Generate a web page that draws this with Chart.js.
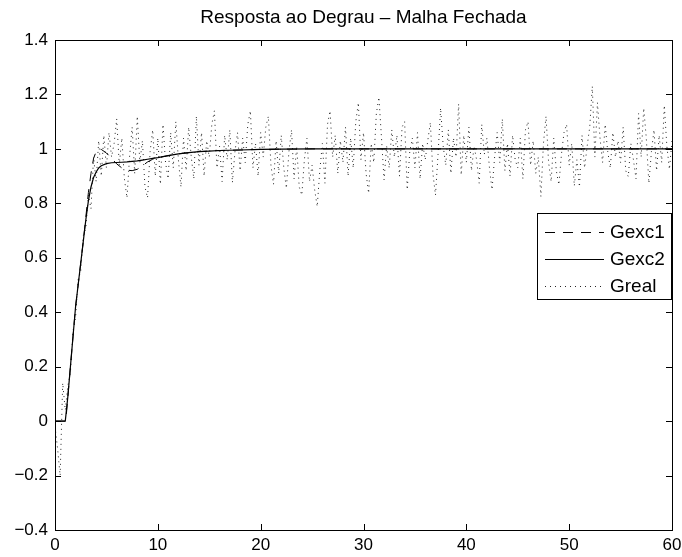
<!DOCTYPE html>
<html lang="pt">
<head>
<meta charset="UTF-8">
<title>Resposta ao Degrau - Malha Fechada</title>
<script src="https://cdn.jsdelivr.net/npm/chart.js"></script>
<style>
    body { margin: 0; background: #fff; }
    canvas { display: block; }
</style>
</head>
<body>
<canvas id="grafico" width="682" height="557"></canvas>
<script>
// tempos das curvas dos modelos
const tModelo = [0, 1, 1.05, 1.25, 1.5, 1.75, 2, 2.25, 2.5, 2.75, 3, 3.25, 3.5, 3.75, 4, 4.25, 4.5,
    5, 5.5, 6, 6.5, 7, 7.5, 8, 8.5, 9, 9.5, 10, 11, 12, 13, 14, 15, 16, 18, 20, 22, 25, 30, 60];

const gexc1 = [0, 0, 0, 0.09, 0.2, 0.31, 0.42, 0.5, 0.58, 0.66, 0.75, 0.84, 0.91, 0.965, 0.99, 1.0, 0.998,
    0.985, 0.965, 0.945, 0.93, 0.922, 0.92, 0.925, 0.938, 0.952, 0.962, 0.968, 0.975, 0.982, 0.986, 0.99,
    0.992, 0.994, 0.996, 0.998, 0.999, 1.0, 1.0, 1.0];

const gexc2 = [0, 0, 0, 0.09, 0.2, 0.31, 0.42, 0.5, 0.58, 0.66, 0.74, 0.81, 0.86, 0.895, 0.915, 0.93, 0.938,
    0.946, 0.949, 0.95, 0.951, 0.952, 0.954, 0.956, 0.959, 0.962, 0.965, 0.968, 0.975, 0.982, 0.986, 0.99,
    0.992, 0.994, 0.996, 0.998, 0.999, 1.0, 1.0, 1.0];

// Greal: amostras a cada 0.25 s, de 0 a 60 s
const dtReal = 0.25;
const greal = [
    -0.02, -0.1, -0.2, 0.14, 0.04, 0.13, 0.18, 0.33, 0.38, 0.52, 0.55, 0.68, 0.71, 0.83, 0.78, 0.97, 0.88, 1.03,
    0.90, 1.05,
    0.93, 1.06, 0.97, 1.02,
    1.11, 0.94, 1.04, 0.89,
    0.82, 0.97, 1.08, 0.91,
    1.12, 0.95, 1.03, 0.86,
    0.82, 0.99, 1.07, 0.90,
    1.04, 0.87, 1.09, 0.95,
    0.89, 1.06, 0.93, 1.10,
    0.96, 0.86, 1.04, 0.92,
    1.08, 0.97, 0.89, 1.12,
    0.94, 1.06, 0.90, 1.03,
    0.97, 1.09, 1.14, 0.93,
    1.01, 0.88, 1.05, 0.96,
    1.07, 0.876, 0.99, 1.06,
    0.92, 1.04, 0.95, 1.09,
    1.14, 0.93, 1.02, 0.90,
    1.06, 0.97, 1.08, 1.12,
    0.94, 0.87, 1.03, 0.91,
    1.05, 0.93, 0.855, 0.99,
    1.07, 0.89, 1.01, 0.86,
    0.83, 0.96, 1.04, 0.88,
    0.94, 0.85, 0.788, 0.92,
    1.02, 0.874, 1.09, 1.14,
    0.97, 1.05, 0.91, 1.03,
    0.95, 1.08, 0.90, 1.04,
    0.93, 1.10, 1.17, 0.96,
    1.06, 0.91, 0.837, 1.02,
    0.95, 1.13, 1.19, 1.04,
    0.886, 1.01, 0.93, 1.07,
    0.97, 1.05, 0.90, 1.08,
    1.10, 0.85, 0.99, 1.04,
    0.93, 1.06, 0.89, 1.02,
    0.96, 1.03, 1.097, 0.91,
    0.83, 0.98, 1.15, 1.01,
    0.94, 1.07, 0.91, 1.04,
    0.97, 1.165, 0.904, 1.05,
    0.95, 1.08, 0.92, 1.01,
    0.96, 0.874, 1.09, 0.98,
    1.04, 0.93, 0.85, 0.97,
    1.06, 0.95, 1.11, 0.92,
    1.02, 0.90, 1.05, 0.96,
    0.93, 1.04, 0.89, 1.07,
    1.10, 0.94, 1.03, 0.91,
    0.97, 0.825, 1.02, 1.12,
    0.95, 0.88, 1.04, 0.92,
    0.868, 0.98, 1.06, 1.09,
    0.94, 1.02, 0.864, 0.96,
    0.86, 1.05, 0.93, 1.01,
    1.08, 1.23, 0.97, 1.17,
    1.04, 0.95, 1.09, 0.99,
    0.93, 1.06, 0.97, 1.03,
    0.95, 1.08, 0.92, 0.898,
    1.02, 0.96, 0.89, 1.13,
    0.97, 1.15, 1.04, 0.874,
    0.99, 1.07, 0.92, 1.05,
    0.95, 1.16, 1.01, 0.925,
    1.03
];

const nomes = ['Gexc1', 'Gexc2', 'Greal'];
const xTicks = { min: 0, max: 60, passo: 10 };
const yTicks = { min: -0.4, max: 1.4, passo: 0.2 };

const fonte = 'Liberation Sans, Arial, Helvetica, sans-serif';

function fmt(v) {
    const s = String(Math.round(v * 10) / 10);
    return s.replace('-', '\u2212');
}

// caixa do eixo com marcas para dentro (estilo MATLAB)
const caixaEixos = {
    id: 'caixaEixos',
    afterDraw(chart) {
        const ctx = chart.ctx;
        const a = chart.chartArea;
        const sx = chart.scales.x, sy = chart.scales.y;
        const L = 6;
        ctx.save();
        ctx.strokeStyle = '#000';
        ctx.lineWidth = 1;
        ctx.setLineDash([]);
        ctx.beginPath();
        sx.ticks.forEach(t => {
            const px = Math.round(sx.getPixelForValue(t.value)) + 0.5;
            ctx.moveTo(px, a.bottom); ctx.lineTo(px, a.bottom - L);
            ctx.moveTo(px, a.top); ctx.lineTo(px, a.top + L);
        });
        sy.ticks.forEach(t => {
            const py = Math.round(sy.getPixelForValue(t.value)) + 0.5;
            ctx.moveTo(a.left, py); ctx.lineTo(a.left + L, py);
            ctx.moveTo(a.right, py); ctx.lineTo(a.right - L, py);
        });
        ctx.stroke();
        ctx.strokeRect(Math.round(a.left) + 0.5, Math.round(a.top) + 0.5,
            Math.round(a.right - a.left), Math.round(a.bottom - a.top));

        // legenda
        const bx = 537, by = 213, bw = 134, bh = 86;
        ctx.fillStyle = '#fff';
        ctx.fillRect(bx, by, bw, bh);
        ctx.strokeRect(bx + 0.5, by + 0.5, bw, bh);
        const ys = [232, 259, 286];
        chart.data.datasets.forEach((ds, i) => {
            const y = ys[i] + 0.5;
            ctx.save();
            ctx.strokeStyle = ds.borderColor;
            ctx.lineWidth = ds.borderWidth;
            ctx.setLineDash(ds.borderDash || []);
            ctx.beginPath();
            ctx.moveTo(545, y); ctx.lineTo(604, y);
            ctx.stroke();
            ctx.restore();
            ctx.fillStyle = '#000';
            ctx.font = '19px ' + fonte;
            ctx.textBaseline = 'middle';
            ctx.textAlign = 'left';
            ctx.fillText(ds.label, 610, ys[i] + 1);
        });
        ctx.restore();
    }
};

const ptsModelo = arr => arr.map((v, i) => ({ x: tModelo[i], y: v }));

new Chart(document.getElementById('grafico'), {
    type: 'line',
    data: {
        datasets: [
            {
                label: nomes[0],
                data: ptsModelo(gexc1),
                borderColor: '#000',
                borderWidth: 1,
                borderDash: [10, 8],
                pointRadius: 0
            },
            {
                label: nomes[1],
                data: ptsModelo(gexc2),
                borderColor: '#000',
                borderWidth: 1.2,
                pointRadius: 0
            },
            {
                label: nomes[2],
                data: greal.map((v, i) => ({ x: i * dtReal, y: v })),
                borderColor: '#222',
                borderWidth: 1,
                borderDash: [1, 4],
                pointRadius: 0
            }
        ]
    },
    options: {
        responsive: false,
        animation: false,
        devicePixelRatio: 1,
        layout: { padding: { left: 0, right: 10, top: 0, bottom: 0 } },
        elements: { line: { tension: 0 } },
        plugins: {
            legend: { display: false },
            tooltip: { enabled: false },
            title: {
                display: true,
                text: 'Resposta ao Degrau \u2013 Malha Fechada',
                color: '#000',
                fullSize: false,
                font: { family: fonte, size: 19, weight: 'normal', lineHeight: 1.2 },
                padding: { top: 6, bottom: 11.2 }
            }
        },
        scales: {
            x: {
                type: 'linear',
                min: xTicks.min,
                max: xTicks.max,
                grid: { display: false, drawTicks: false },
                border: { display: false },
                ticks: {
                    stepSize: xTicks.passo,
                    color: '#000',
                    padding: 5,
                    maxRotation: 0,
                    font: { family: fonte, size: 17 },
                    callback: v => fmt(v)
                },
                afterFit: s => { s.height = 27; s.paddingLeft = 0; s.paddingRight = 0; }
            },
            y: {
                type: 'linear',
                min: yTicks.min,
                max: yTicks.max,
                grid: { display: false, drawTicks: false },
                border: { display: false },
                ticks: {
                    stepSize: yTicks.passo,
                    color: '#000',
                    padding: 7,
                    font: { family: fonte, size: 17 },
                    callback: v => fmt(v)
                },
                afterFit: s => { s.width = 55; }
            }
        }
    },
    plugins: [caixaEixos]
});
</script>
</body>
</html>
